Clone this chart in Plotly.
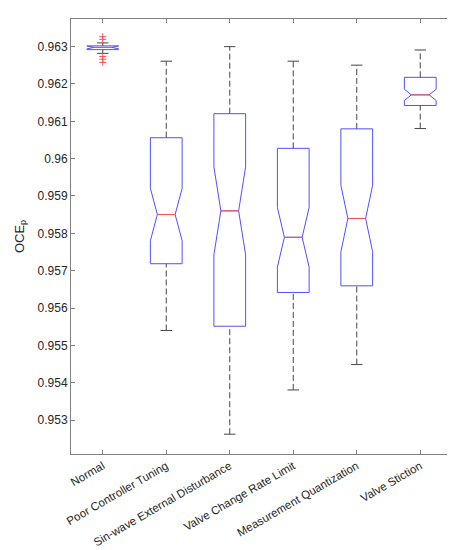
import plotly.graph_objects as go

# values (MATLAB style)
groups = ["Normal", "Poor Controller Tuning", "Sin-wave External Disturbance",
          "Valve Change Rate Limit", "Measurement Quantization", "Valve Stiction"]
q1 = [0.96292, 0.957186, 0.955512, 0.956416, 0.956594, 0.961424]
med = [0.96298, 0.958504, 0.958602, 0.957894, 0.958398, 0.961708]
q3 = [0.96302, 0.960560, 0.961204, 0.960276, 0.960798, 0.962178]
notch = [0.00004, 0.0007, 0.00118, 0.0008, 0.00089, 0.00015]
lower_whisker = [0.96282, 0.955398, 0.95262, 0.953806, 0.954485, 0.960806]
upper_whisker = [0.96310, 0.96261, 0.96300, 0.96261, 0.962504, 0.96291]
outlier_x = [1, 1, 1, 1, 1]
outlier_y = [0.963265, 0.963194, 0.962735, 0.962663, 0.962576]

yticks = [0.953, 0.954, 0.955, 0.956, 0.957, 0.958, 0.959, 0.96, 0.961, 0.962, 0.963]

pos = list(range(1, len(groups) + 1))
box_w = 0.5
cap = 0.09
notch_w = 0.22
med_half = box_w / 2 * (1 - 2 * notch_w)

blue = "rgb(80,80,255)"
red = "rgb(255,80,80)"
dark = "rgb(70,70,70)"

fig = go.Figure()

# dashed whiskers
wx, wy = [], []
for p, a, b, c, d in zip(pos, lower_whisker, q1, q3, upper_whisker):
    wx += [p, p, None, p, p, None]
    wy += [a, b, None, c, d, None]
fig.add_trace(go.Scatter(x=wx, y=wy, mode="lines",
                         line=dict(color=dark, width=1, dash="6px,3px"),
                         hoverinfo="skip"))

# whisker caps
cx, cy = [], []
for p, a, d in zip(pos, lower_whisker, upper_whisker):
    cx += [p - cap, p + cap, None, p - cap, p + cap, None]
    cy += [a, a, None, d, d, None]
fig.add_trace(go.Scatter(x=cx, y=cy, mode="lines",
                         line=dict(color=dark, width=1), hoverinfo="skip"))

# notched boxes
fig.add_trace(go.Box(x=pos, q1=q1, median=med, q3=q3,
                     lowerfence=q1, upperfence=q3,
                     notched=True, notchspan=notch, notchwidth=notch_w,
                     width=box_w, whiskerwidth=0,
                     fillcolor="rgba(0,0,0,0)",
                     line=dict(color=blue, width=1)))

# red medians
mx, my = [], []
for p, m in zip(pos, med):
    mx += [p - med_half, p + med_half, None]
    my += [m, m, None]
fig.add_trace(go.Scatter(x=mx, y=my, mode="lines",
                         line=dict(color=red, width=1), hoverinfo="skip"))

# outliers
fig.add_trace(go.Scatter(x=outlier_x, y=outlier_y, mode="markers",
                         marker=dict(symbol="cross-thin", size=5,
                                     line=dict(color=red, width=1))))

axis_col = "#808080"
fig.update_layout(
    width=455, height=550,
    margin=dict(l=60, r=11, t=10, b=100),
    plot_bgcolor="white", paper_bgcolor="white",
    showlegend=False,
    font=dict(family="Liberation Sans, Arial, sans-serif", size=12, color="#262626"),
    xaxis=dict(range=[0.5, 6.5], tickvals=pos, ticktext=groups, tickangle=-30,
               tickfont=dict(size=11.5),
               showgrid=False, zeroline=False, showline=True, mirror="ticks",
               linecolor=axis_col, linewidth=1, ticks="inside", ticklen=4,
               tickcolor=axis_col),
    yaxis=dict(range=[0.95209, 0.96374], tickvals=yticks,
               ticktext=[("%.3f" % v).rstrip("0") for v in yticks],
               tickfont=dict(size=12),
               showgrid=False, zeroline=False, showline=True, mirror="ticks",
               linecolor=axis_col, linewidth=1, ticks="inside", ticklen=4,
               tickcolor=axis_col,
               title=dict(text="OCE<sub>p</sub>", font=dict(size=13), standoff=10)),
)

fig.write_html("out.html")
